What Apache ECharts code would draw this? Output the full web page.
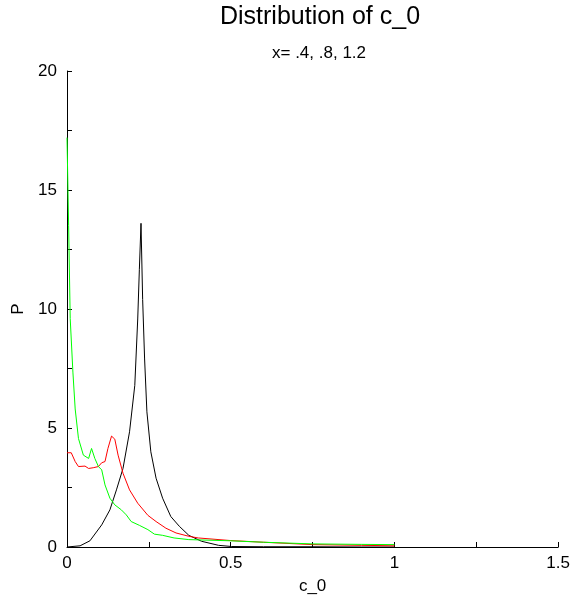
<!DOCTYPE html>
<html><head><meta charset="utf-8">
<script src="https://cdn.jsdelivr.net/npm/echarts@6/dist/echarts.min.js"></script>
<style>html,body{margin:0;padding:0;background:#fff}#c{width:573px;height:600px}</style>
</head><body><div id="c"></div>
<script>
const titleText = 'Distribution of c_0';
const subtitleText = 'x= .4, .8, 1.2';
const xName = 'c_0';
const yName = 'P';
const blackX = [0,0.040,0.070,0.106,0.131,0.151,0.171,0.191,0.207,0.216,0.221,0.226,0.231,0.237,0.244,0.256,0.272,0.292,0.317,0.343,0.372,0.411,0.463,0.503,0.6,0.75,0.9,1.0];
const blackY = [0,0.05,0.26,0.93,1.56,2.4,3.3,4.84,6.79,9.58,11.67,13.6,10.4,7.9,5.68,4.0,2.89,2.05,1.28,0.87,0.49,0.24,0.07,0.02,0.01,0.01,0.0,0.0];
const redX = [0,0.013,0.025,0.035,0.055,0.066,0.080,0.096,0.106,0.116,0.125,0.136,0.146,0.156,0.171,0.191,0.216,0.247,0.272,0.302,0.333,0.372,0.401,0.5,0.6,0.75,0.9,1.0];
const redY = [3.96,3.96,3.59,3.38,3.4,3.3,3.33,3.38,3.54,3.59,4.14,4.66,4.53,3.86,3.1,2.4,1.84,1.33,1.07,0.79,0.59,0.45,0.38,0.27,0.2,0.1,0.07,0.05];
const greenX = [0,0.005,0.0098,0.018,0.025,0.035,0.05,0.066,0.075,0.085,0.096,0.106,0.116,0.131,0.146,0.166,0.181,0.196,0.221,0.247,0.267,0.292,0.327,0.372,0.5,0.6,0.75,0.9,1.0];
const greenY = [17.2,13.5,9.6,7.35,5.8,4.56,3.86,3.72,4.14,3.72,3.38,3.24,2.61,2.05,1.77,1.56,1.35,1.07,0.91,0.73,0.54,0.49,0.38,0.31,0.26,0.2,0.13,0.11,0.1];
const zip = (a,b)=>a.map((v,i)=>[v,b[i]]);
const font = 'Liberation Sans, Arial, sans-serif';
const chart = echarts.init(document.getElementById('c'), null, {renderer:'canvas'});
const mk = (name,xs,ys,color)=>({name,type:'line',data:zip(xs,ys),showSymbol:false,symbol:'none',
  lineStyle:{color,width:1},itemStyle:{color},animation:false});
chart.setOption({
  animation:false,
  backgroundColor:'#fff',
  title:[
    {text:titleText,left:315,top:0,textAlign:'center',textStyle:{fontFamily:font,fontWeight:'normal',fontSize:25,color:'#000'}},
    {text:subtitleText,left:314,top:40,textAlign:'center',textStyle:{fontFamily:font,fontWeight:'normal',fontSize:17,color:'#000'}}
  ],
  grid:{left:67,right:9,top:71,bottom:50},
  xAxis:{type:'value',min:0,max:1.5,interval:0.25,name:xName,nameLocation:'middle',nameGap:31,
    nameTextStyle:{fontFamily:font,fontSize:17,color:'#000'},
    axisLine:{show:true,lineStyle:{color:'#000',width:1}},
    axisTick:{show:true,inside:true,length:5,lineStyle:{color:'#000'}},
    splitLine:{show:false},
    axisLabel:{fontFamily:font,fontSize:17,color:'#000',margin:8,
      formatter:v=>{const r=Math.round(v*100)/100; return (Math.abs(r*2-Math.round(r*2))<1e-6)? String(r):'';}}},
  yAxis:{type:'value',min:0,max:20,interval:2.5,name:yName,nameLocation:'middle',nameGap:38,nameRotate:90,
    nameTextStyle:{fontFamily:font,fontSize:17,color:'#000'},
    axisLine:{show:true,lineStyle:{color:'#000',width:1}},
    axisTick:{show:true,inside:true,length:5,lineStyle:{color:'#000'}},
    splitLine:{show:false},
    axisLabel:{fontFamily:font,fontSize:17,color:'#000',margin:10,
      formatter:v=>(Math.abs(v/5-Math.round(v/5))<1e-6)?String(v):''}},
  series:[mk('black',blackX,blackY,'#000000'),mk('red',redX,redY,'#ff0000'),mk('green',greenX,greenY,'#00ff00')]
});
</script></body></html>
